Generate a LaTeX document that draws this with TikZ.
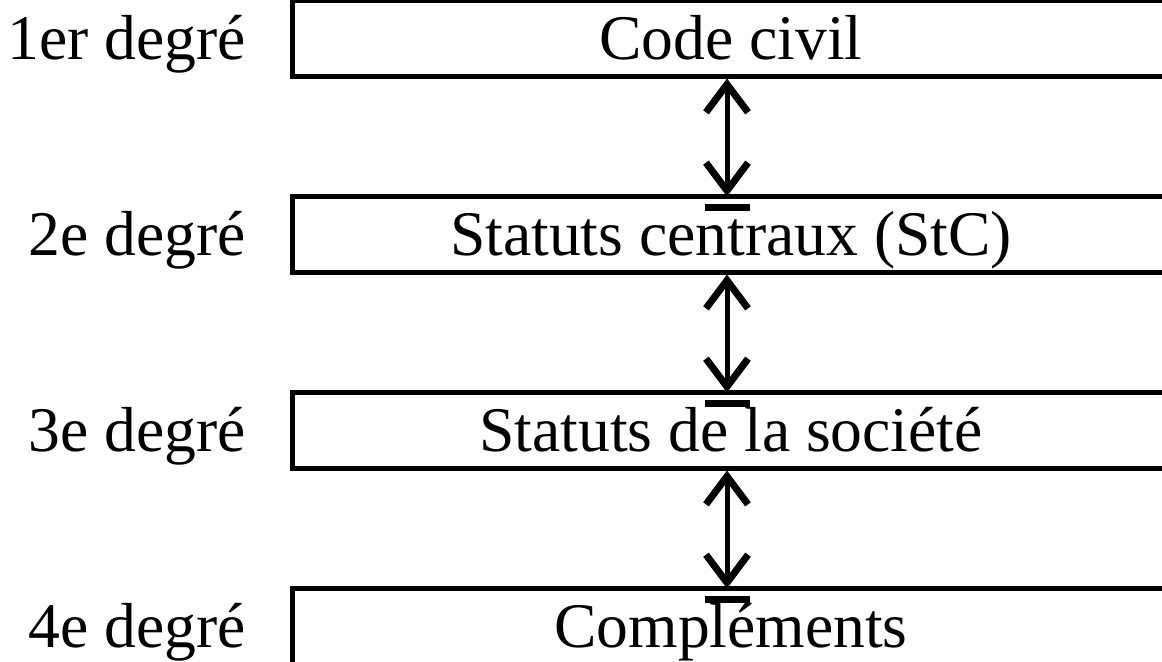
\documentclass[tikz,border=0pt]{standalone}
\usepackage{fontspec}
\setmainfont{Liberation Serif}
\usepackage{tikz}
\usetikzlibrary{arrows.meta,positioning}

\begin{document}
\begin{tikzpicture}[x=0.5pt,y=-0.5pt,
	degbox/.style={rectangle,draw,line width=2.5pt,minimum width=438.5pt,minimum height=38pt,inner sep=0pt,text height=21.5pt,text depth=0pt},
	deglabel/.style={inner sep=0pt},
	link/.style={line width=2.5pt,{Straight Barb[length=14pt,width=21pt,line width=3.5pt]}-{Straight Barb[length=14pt,width=21pt,line width=3.5pt]},shorten >=-1.5pt},
	tickbar/.style={line width=3.25pt}]
	\useasboundingbox (0,0) rectangle (1162,661);
	\begin{scope}[every node/.style={font=\fontsize{31.8}{38}\selectfont}]
		\node[degbox] (box1) at (731,38) {Code civil};
		\node[degbox,below =57.5pt of box1] (box2) {Statuts centraux (StC)};
		\node[degbox,below =57.5pt of box2] (box3) {Statuts de la société};
		\node[degbox,below =57.5pt of box3] (box4) {Compléments};

		\node[deglabel,base left =22pt of box1] (deg1) {1er degré};
		\node[deglabel,base left =22pt of box2] (deg2) {2e degré};
		\node[deglabel,base left =22pt of box3] (deg3) {3e degré};
		\node[deglabel,base left =22pt of box4] (deg4) {4e degré};
	\end{scope}

	\begin{scope}
	\draw[link] ([xshift=-2pt]box1.south) -- ([xshift=-2pt]box2.north);
	\draw[link] ([xshift=-2pt]box2.south) -- ([xshift=-2pt]box3.north);
	\draw[link] ([xshift=-2pt]box3.south) -- ([xshift=-2pt]box4.north);
	% small bars under the arrow tips
	\draw[tickbar] ([xshift=-13.25pt,yshift=-7pt]box2.north) -- ([xshift=9.25pt,yshift=-7pt]box2.north);
	\draw[tickbar] ([xshift=-13.25pt,yshift=-7pt]box3.north) -- ([xshift=9.25pt,yshift=-7pt]box3.north);
	\draw[tickbar] ([xshift=-13.25pt,yshift=-7pt]box4.north) -- ([xshift=9.25pt,yshift=-7pt]box4.north);
	\end{scope}
\end{tikzpicture}
\end{document}
